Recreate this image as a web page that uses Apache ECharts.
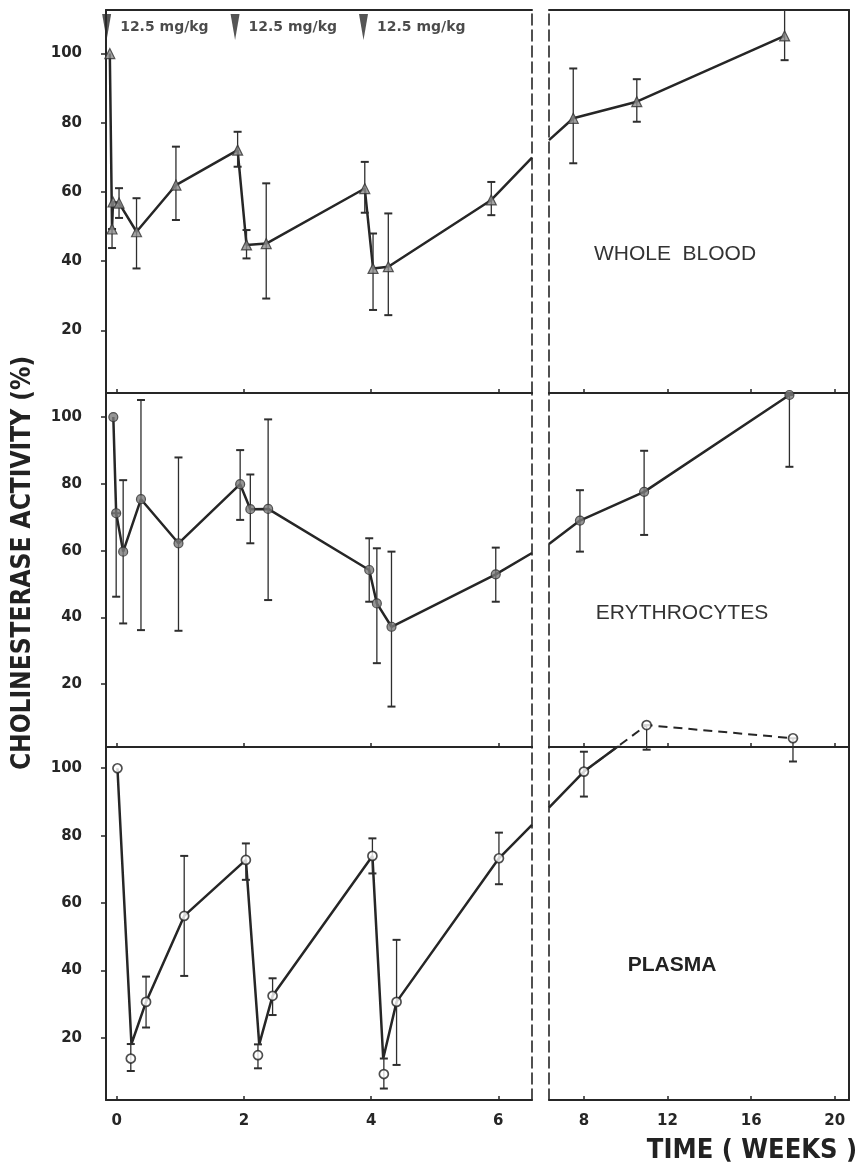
<!DOCTYPE html>
<html><head><meta charset="utf-8">
<script src="https://cdn.jsdelivr.net/npm/echarts@6/dist/echarts.min.js"></script>
<style>html,body{margin:0;padding:0;background:#fff}#c{width:861px;height:1171px}</style>
</head><body><div id="c"></div>
<script>
// ---------- tick labels ----------
const yTickValues = [20, 40, 60, 80, 100];
const xTicksLeft = [0, 2, 4, 6];
const xTicksRight = [8, 12, 16, 20];
const panelNames = ['WHOLE  BLOOD', 'ERYTHROCYTES', 'PLASMA'];
const yTitle = 'CHOLINESTERASE ACTIVITY (%)';
const xTitle = 'TIME ( WEEKS )';

// ---------- doses ----------
const doseWeeks = [-0.16, 1.86, 3.88];
const doseLabel = '12.5 mg/kg';
const doseLevel = 107.7;

// ---------- whole blood ----------
const wbWeeksL = [-0.11, -0.075, -0.06, 0.035, 0.31, 0.93, 1.90, 2.04, 2.35, 3.90, 4.03, 4.27, 5.89];
const wbValsL  = [100, 49.3, 57.1, 56.8, 48.5, 62.0, 72.1, 44.7, 45.1, 61.0, 37.9, 38.4, 57.7];
const wbLowL   = [100, 43.8, 57.1, 52.5, 37.9, 51.9, 67.3, 40.8, 29.2, 54.0, 25.9, 24.4, 53.3];
const wbHighL  = [100, 49.3, 57.1, 61.1, 58.2, 73.1, 77.4, 49.0, 62.5, 68.7, 48.0, 53.8, 62.9];
const wbWeeksR = [7.49, 10.53, 17.60];
const wbValsR  = [81.3, 86.1, 105.1];
const wbLowR   = [68.3, 80.3, 98.1];
const wbHighR  = [95.7, 92.6, 112.6];
const wbBreak  = [69.9, 75.0];   // curve value where it meets left / right break line

// ---------- erythrocytes ----------
const eryWeeksL = [-0.055, -0.01, 0.10, 0.38, 0.97, 1.94, 2.10, 2.38, 3.97, 4.09, 4.32, 5.96];
const eryValsL  = [100, 71.2, 59.7, 75.4, 62.2, 79.9, 72.4, 72.5, 54.2, 44.2, 37.2, 52.9];
const eryLowL   = [100, 46.2, 38.2, 36.2, 36.0, 69.2, 62.2, 45.2, 44.7, 26.3, 13.3, 44.7];
const eryHighL  = [100, 71.2, 81.1, 105.1, 87.9, 90.1, 82.8, 99.3, 63.7, 60.7, 59.7, 60.9];
const eryWeeksR = [7.81, 10.88, 17.83];
const eryValsR  = [69.0, 77.6, 106.6];
const eryLowR   = [59.7, 64.7, 85.1];
const eryHighR  = [78.1, 89.9, 106.6];
const eryBreak  = [59.3, 62.0];

// ---------- plasma ----------
const plLineWeeksL = [0.01, 0.23, 0.46, 1.06, 2.03, 2.24, 2.45, 4.02, 4.19, 4.40, 6.01];
const plLineValsL  = [100, 18.2, 30.7, 56.2, 72.8, 18.1, 32.5, 74.0, 13.9, 30.7, 73.3];
const plPtWeeksL   = [0.01, 0.22, 0.46, 1.06, 2.03, 2.22, 2.45, 4.02, 4.20, 4.40, 6.01];
const plPtValsL    = [100, 13.9, 30.7, 56.2, 72.8, 14.9, 32.5, 74.0, 9.3, 30.7, 73.3];
const plLowL       = [100, 10.2, 23.1, 38.4, 66.9, 11.0, 26.8, 68.8, 5.0, 12.0, 65.6];
const plHighL      = [100, 18.2, 38.2, 74.0, 77.7, 18.1, 37.7, 79.2, 13.9, 49.1, 80.9];
const plWeeksR = [8.0, 11.0, 18.0];
const plValsR  = [99.0, 112.8, 108.9];
const plLowR   = [91.6, 105.5, 102.0];
const plHighR  = [104.9, 112.8, 108.9];
const plSolidCountR = 2;   // right-hand points joined by the solid line
const plBreak  = [83.2, 88.3];

// ---------- layout ----------
const xLeft = { min: -0.17, max: 6.53, left: 106, width: 426 };
const xRight = { min: 6.33, max: 20.68, left: 549, width: 300 };
const panels = [
  { top: 10, height: 383, min: 1.9, max: 112.6 },
  { top: 393, height: 354, min: 1.2, max: 107.2 },
  { top: 747, height: 353, min: 1.6, max: 106.3 }
];
const INK = '#262626';
const numFont = 'DejaVu Sans';

const zip = (a, b) => a.map((v, i) => [v, b[i]]);
const zip3 = (a, b, c) => a.map((v, i) => [v, b[i], c[i]]);

const grid = [], xAxis = [], yAxis = [], series = [];
panels.forEach((p, pi) => {
  [xLeft, xRight].forEach((sx, si) => {
    const g = grid.length;
    grid.push({ left: sx.left, width: sx.width, top: p.top, height: p.height });
    const isBottom = pi === 2;
    const ticks = si === 0 ? xTicksLeft : xTicksRight;
    xAxis.push({
      gridIndex: g, type: 'value', position: 'bottom', min: sx.min, max: sx.max,
      splitLine: { show: false },
      axisLine: { show: true, onZero: false, lineStyle: { color: INK, width: 2 } },
      axisTick: { show: true, inside: true, length: 4, customValues: ticks, lineStyle: { color: INK, width: 1.5 } },
      axisLabel: { show: isBottom, customValues: ticks, margin: 14, color: INK,
        fontFamily: numFont, fontWeight: 'bold', fontSize: 15 }
    });
    xAxis.push({
      gridIndex: g, type: 'value', position: 'top', min: sx.min, max: sx.max,
      splitLine: { show: false },
      axisLine: { show: true, onZero: false, lineStyle: { color: INK, width: 2 } },
      axisTick: { show: false }, axisLabel: { show: false }
    });
    const dashed = { color: INK, width: 1.6, type: [11, 5] };
    const solid = { color: INK, width: 2 };
    yAxis.push({
      gridIndex: g, type: 'value', position: 'left', min: p.min, max: p.max,
      splitLine: { show: false },
      axisLine: { show: true, onZero: false, lineStyle: si === 0 ? solid : dashed },
      axisTick: { show: si === 0, length: 5, customValues: yTickValues, lineStyle: { color: INK, width: 1.5 } },
      axisLabel: { show: si === 0, customValues: yTickValues, margin: 24, color: INK,
        fontFamily: numFont, fontWeight: 'bold', fontSize: 15 }
    });
    yAxis.push({
      gridIndex: g, type: 'value', position: 'right', min: p.min, max: p.max,
      splitLine: { show: false },
      axisLine: { show: true, onZero: false, lineStyle: si === 0 ? dashed : solid },
      axisTick: { show: false }, axisLabel: { show: false }
    });
  });
});

function errItem(params, api) {
  const x = api.value(0), lo = api.value(1), hi = api.value(2);
  const a = api.coord([x, hi]), b = api.coord([x, lo]);
  const w = 4;
  const st = { stroke: '#2e2e2e', lineWidth: 1.3 };
  const children = [];
  if (hi - lo > 0.01) {
    children.push({ type: 'line', shape: { x1: a[0], y1: a[1], x2: b[0], y2: b[1] }, style: st });
    children.push({ type: 'line', shape: { x1: a[0] - w, y1: a[1], x2: a[0] + w, y2: a[1] }, style: { stroke: '#2e2e2e', lineWidth: 2 } });
    children.push({ type: 'line', shape: { x1: b[0] - w, y1: b[1], x2: b[0] + w, y2: b[1] }, style: { stroke: '#2e2e2e', lineWidth: 2 } });
  }
  return { type: 'group', children };
}

const markerStyles = [
  { symbol: 'triangle', symbolSize: 10, itemStyle: { color: '#8c8c8c', borderColor: '#333', borderWidth: 1.2 } },
  { symbol: 'circle', symbolSize: 9, itemStyle: { color: '#7a7a7a', borderColor: '#333', borderWidth: 1.2 } },
  { symbol: 'circle', symbolSize: 9, itemStyle: { color: '#ffffff', borderColor: '#222', borderWidth: 1.7 } }
];
const lineStyle = { color: INK, width: 2.5 };

function addLine(g, data, extra) {
  series.push(Object.assign({ type: 'line', xAxisIndex: 2 * g, yAxisIndex: 2 * g, data, symbol: 'none',
    lineStyle, silent: true, animation: false, z: 2 }, extra || {}));
}
function addMarkers(g, pi, data, clip) {
  series.push(Object.assign({ type: 'scatter', xAxisIndex: 2 * g, yAxisIndex: 2 * g, data, clip: clip !== false,
    silent: true, animation: false, z: 4 }, markerStyles[pi]));
}
function addErr(g, data, clip) {
  series.push({ type: 'custom', xAxisIndex: 2 * g, yAxisIndex: 2 * g, data, renderItem: errItem,
    clip: clip !== false, silent: true, animation: false, z: 3 });
}

// whole blood (grids 0,1)
addLine(0, zip(wbWeeksL, wbValsL).concat([[xLeft.max, wbBreak[0]]]));
addErr(0, zip3(wbWeeksL, wbLowL, wbHighL));
addMarkers(0, 0, zip(wbWeeksL, wbValsL));
addLine(1, [[xRight.min, wbBreak[1]]].concat(zip(wbWeeksR, wbValsR)));
addErr(1, zip3(wbWeeksR, wbLowR, wbHighR));
addMarkers(1, 0, zip(wbWeeksR, wbValsR));

// erythrocytes (grids 2,3)
addLine(2, zip(eryWeeksL, eryValsL).concat([[xLeft.max, eryBreak[0]]]));
addErr(2, zip3(eryWeeksL, eryLowL, eryHighL));
addMarkers(2, 1, zip(eryWeeksL, eryValsL));
addLine(3, [[xRight.min, eryBreak[1]]].concat(zip(eryWeeksR, eryValsR)));
addErr(3, zip3(eryWeeksR, eryLowR, eryHighR));
addMarkers(3, 1, zip(eryWeeksR, eryValsR));

// plasma (grids 4,5)
addLine(4, zip(plLineWeeksL, plLineValsL).concat([[xLeft.max, plBreak[0]]]));
addErr(4, zip3(plPtWeeksL, plLowL, plHighL));
addMarkers(4, 2, zip(plPtWeeksL, plPtValsL));
addLine(5, [[xRight.min, plBreak[1]]].concat(zip(plWeeksR, plValsR).slice(0, plSolidCountR)));
addLine(5, zip(plWeeksR, plValsR), { clip: false, lineStyle: { color: INK, width: 2, type: [9, 6] }, z: 1 });
addErr(5, zip3(plWeeksR, plLowR, plHighR), false);
addMarkers(5, 2, zip(plWeeksR, plValsR), false);

// dose markers
series.push({
  type: 'scatter', xAxisIndex: 0, yAxisIndex: 0, clip: false, silent: true, animation: false, z: 5,
  data: doseWeeks.map(w => [w, doseLevel]),
  symbol: 'triangle', symbolRotate: 180, symbolSize: [9, 26],
  itemStyle: { color: '#2a2a2a' },
  label: { show: true, position: 'right', distance: 9, formatter: doseLabel, color: '#1e1e1e',
    fontFamily: numFont, fontWeight: 'bold', fontSize: 14 }
});

const graphic = [
  { type: 'text', x: 675, y: 254, style: { text: panelNames[0], align: 'center', verticalAlign: 'middle',
      font: 'normal 21px "Liberation Sans"', fill: '#333' } },
  { type: 'text', x: 682, y: 613, style: { text: panelNames[1], align: 'center', verticalAlign: 'middle',
      font: 'normal 21px "Liberation Sans"', fill: '#333' } },
  { type: 'text', x: 672, y: 965, style: { text: panelNames[2], align: 'center', verticalAlign: 'middle',
      font: 'bold 21px "Liberation Sans"', fill: '#222' } },
  { type: 'text', x: 23, y: 563, rotation: Math.PI / 2, style: { text: yTitle, align: 'center', verticalAlign: 'middle',
      font: 'bold 26px "DejaVu Sans Condensed", "Liberation Sans Narrow", sans-serif', fill: '#222' } },
  { type: 'text', x: 752, y: 1151, style: { text: xTitle, align: 'center', verticalAlign: 'middle',
      font: 'bold 27px "DejaVu Sans Condensed", "Liberation Sans Narrow", sans-serif', fill: '#222' } }
];

const chart = echarts.init(document.getElementById('c'), null, { renderer: 'canvas' });
chart.setOption({ backgroundColor: '#ffffff', animation: false, grid, xAxis, yAxis, series, graphic });
</script></body></html>
